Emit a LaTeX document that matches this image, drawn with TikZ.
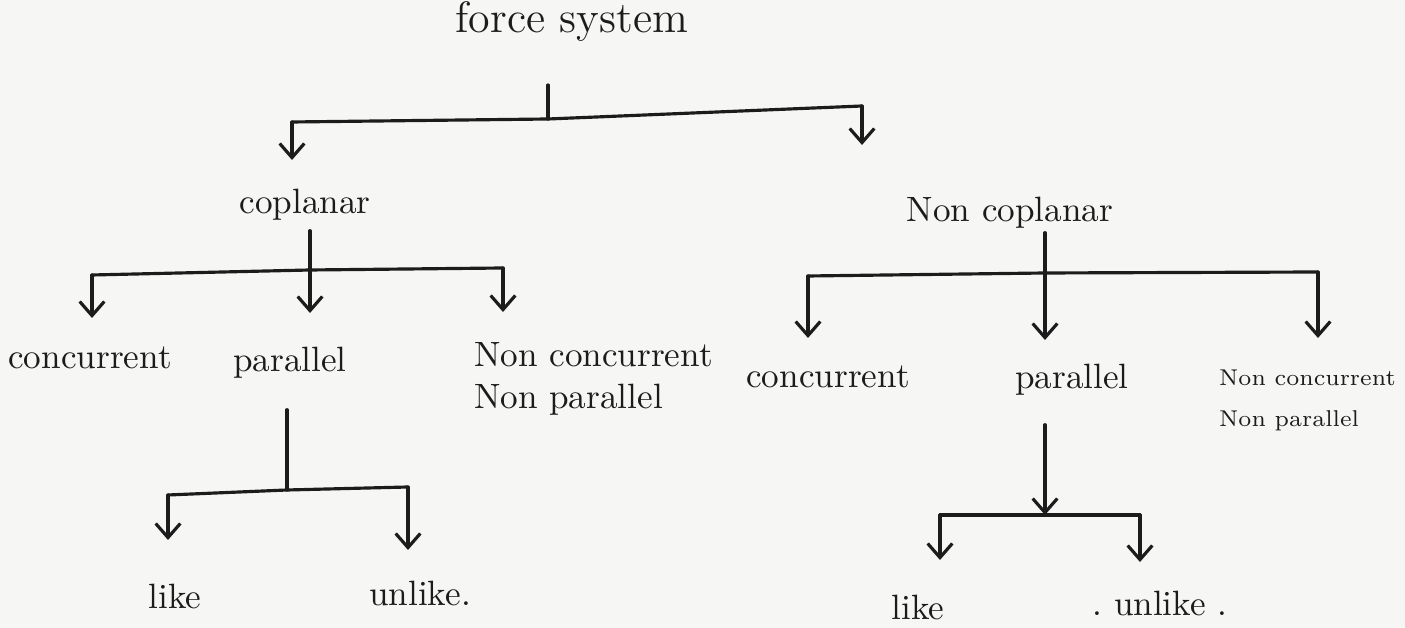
\documentclass[tikz,border=0pt]{standalone}
\usetikzlibrary{arrows.meta}
\definecolor{ink}{HTML}{1C1C1C}
\definecolor{paper}{HTML}{F6F6F4}
\begin{document}
\begin{tikzpicture}[x=0.01cm,y=-0.01cm,
  lbl/.style={inner sep=1pt,text=ink,font=\normalsize},
  wire/.style={draw=ink,line width=0.9pt,line cap=round,line join=round},
  arr/.style={wire,-{Straight Barb[length=4pt,width=7pt]}}]
\fill[paper] (0,0) rectangle (1405,628);
\useasboundingbox (0,0) rectangle (1405,628);

% titles
\node[lbl,font=\fontsize{12.5}{14}\selectfont] (fs) at (572,22) {force system};
\node[lbl,anchor=north] (cop) at (305,185) {coplanar};
\node[lbl,anchor=north] (ncop) at (1010,193) {Non coplanar};

% level 2 left
\node[lbl,anchor=north] (c1) at (90,343) {concurrent};
\node[lbl,anchor=north] (p1) at (290,343) {parallel};
\node[lbl,anchor=north west,align=left] (n1) at (470,338) {Non concurrent\\Non parallel};

% level 2 right
\node[lbl,anchor=north] (c2) at (828,362) {concurrent};
\node[lbl,anchor=north] (p2) at (1072,360) {parallel};
\node[lbl,anchor=north west,align=left,font=\fontsize{6.5}{11.6}\selectfont] (n2) at (1215,366) {Non concurrent\\Non parallel};

% level 3
\node[lbl,anchor=north] (l1) at (175,580) {like};
\node[lbl,anchor=north] (u1) at (420,577) {unlike.};
\node[lbl,anchor=north] (l2) at (918,591) {like};
\node[lbl,anchor=north] (u2) at (1160,587) {.\ unlike .};

% force system tree
\coordinate (fst) at (548,85);
\coordinate (fsj) at (548,119);
\coordinate (fsL) at (292,122);
\coordinate (fsR) at (862,106);
\draw[wire] (fst) -- (fsj);
\draw[wire] (fsL) -- (fsj) -- (fsR);
\draw[arr,shorten >=0.25cm] (fsL) -- (fsL |- cop.north);
\draw[arr,shorten >=0.48cm] (fsR) -- (fsR |- ncop.north);

% coplanar tree
\coordinate (cj) at (310,270);
\coordinate (cL) at (92,275);
\coordinate (cM) at (310,270);
\coordinate (cR) at (503,268);
\draw[wire] (cop.south -| cj) ++(0,6) -- (cj);
\draw[wire] (cL) -- (cj) -- (cR);
\draw[arr,shorten >=0.25cm] (cL) -- (cL |- c1.north);
\draw[arr,shorten >=0.30cm] (cM) -- (cM |- p1.north);
\draw[arr,shorten >=0.26cm] (cR) -- (cR |- n1.north);

% coplanar parallel tree
\coordinate (pj) at (287,490);
\coordinate (pL) at (168,495);
\coordinate (pR) at (408,487);
\draw[wire] (p1.south -| pj) ++(0,27) -- (pj);
\draw[wire] (pL) -- (pj) -- (pR);
\draw[arr,shorten >=0.40cm] (pL) -- (pL |- l1.north);
\draw[arr,shorten >=0.27cm] (pR) -- (pR |- u1.north);

% non coplanar tree
\coordinate (nj) at (1045,273);
\coordinate (nL) at (808,276);
\coordinate (nR) at (1318,272);
\draw[wire] (ncop.south -| nj) ++(0,0) -- (nj);
\draw[wire] (nL) -- (nj) -- (nR);
\draw[arr,shorten >=0.24cm] (nL) -- (nL |- c2.north);
\draw[arr,shorten >=0.20cm] (nj) -- (nj |- p2.north);
\draw[arr,shorten >=0.28cm] (nR) -- (nR |- n2.north);

% non coplanar parallel tree
\coordinate (qj) at (1045,515);
\coordinate (qL) at (940,515);
\coordinate (qR) at (1140,515);
\draw[arr] (p2.south -| qj) ++(0,25) -- (qj);
\draw[wire] (qL) -- (qR);
\draw[arr,shorten >=0.31cm] (qL) -- (qL |- l2.north);
\draw[arr,shorten >=0.25cm] (qR) -- (qR |- u2.north);
\end{tikzpicture}
\end{document}
